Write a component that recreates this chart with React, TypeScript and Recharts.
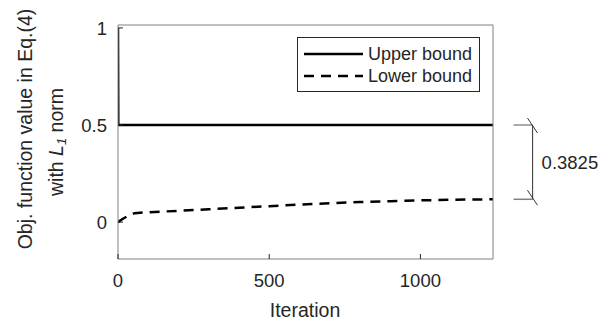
import React from "react";
import {
  LineChart,
  Line,
  XAxis,
  YAxis,
  Legend,
  ReferenceLine,
} from "recharts";

const upperIter = [0, 1, 1240];
const upperValue = [1, 0.5, 0.5];

const lowerIter = [0, 15, 35, 55, 100, 200, 300, 400, 500, 600, 700, 800, 900, 1000, 1100, 1240];
const lowerValue = [0, 0.016, 0.034, 0.046, 0.051, 0.058, 0.066, 0.074, 0.082, 0.09, 0.097, 0.103, 0.108, 0.112, 0.115, 0.1175];

const xTicks = [0, 500, 1000];
const yTicks = [0, 0.5, 1];
const gapLabel = "0.3825";

const upperData = upperIter.map((x, i) => ({ x, v: upperValue[i] }));
const lowerData = lowerIter.map((x, i) => ({ x, v: lowerValue[i] }));

const FONT = "'Liberation Sans', Arial, sans-serif";
const TEXT = "#262626";
const AXIS = "#808080";
const TICK_FS = 18.5;
const LABEL_FS = 19.5;
const DASH = "10 7";

const BottomTick = (props: any) => {
  const { x, y, payload } = props;
  return (
    <g>
      <line x1={x} x2={x} y1={y} y2={y - 5} stroke={TEXT} strokeWidth={1} />
      <text x={x} y={y + 28} textAnchor="middle" fontSize={TICK_FS} fill={TEXT} fontFamily={FONT}>
        {payload.value}
      </text>
    </g>
  );
};

const TopTick = (props: any) => {
  const { x, y } = props;
  return <line x1={x} x2={x} y1={y} y2={y + 5} stroke={TEXT} strokeWidth={1} />;
};

const LeftTick = (props: any) => {
  const { x, y, payload } = props;
  return (
    <g>
      <line x1={x} x2={x + 5} y1={y} y2={y} stroke={TEXT} strokeWidth={1} />
      <text x={x - 11} y={y + 7} textAnchor="end" fontSize={TICK_FS} fill={TEXT} fontFamily={FONT}>
        {payload.value}
      </text>
    </g>
  );
};

const RightTick = (props: any) => {
  const { x, y } = props;
  return <line x1={x} x2={x - 5} y1={y} y2={y} stroke={TEXT} strokeWidth={1} />;
};

const YLabel = () => (
  <g fontFamily={FONT} fontSize={LABEL_FS} fill={TEXT}>
    <text x={25} y={129} transform="rotate(-90 25 129)" textAnchor="middle" dominantBaseline="central">
      Obj. function value in Eq.(4)
    </text>
    <text x={56} y={142} transform="rotate(-90 56 142)" textAnchor="middle" dominantBaseline="central">
      with <tspan fontStyle="italic">L</tspan>
      <tspan fontStyle="italic" fontSize={13} dy={5}>1</tspan>
      <tspan dy={-5}> norm</tspan>
    </text>
  </g>
);

const XLabel = () => (
  <text x={305} y={317} textAnchor="middle" fontSize={LABEL_FS} fill={TEXT} fontFamily={FONT}>
    Iteration
  </text>
);

const LegendBox = () => (
  <div
    style={{
      border: `1px solid ${TEXT}`,
      background: "#fff",
      width: 181,
      height: 53,
    }}
  >
    <svg width={181} height={53} style={{ display: "block" }}>
      <line x1={6} x2={65} y1={16} y2={16} stroke="#000" strokeWidth={2.5} />
      <text x={70} y={22} fontSize={18} fill={TEXT} fontFamily={FONT}>Upper bound</text>
      <line x1={6} x2={65} y1={38} y2={38} stroke="#000" strokeWidth={2.5} strokeDasharray={DASH} />
      <text x={70} y={44} fontSize={18} fill={TEXT} fontFamily={FONT}>Lower bound</text>
    </svg>
  </div>
);

const GapLabel = (props: any) => {
  const { viewBox } = props;
  const midY = viewBox.y + viewBox.height / 2;
  return (
    <text x={viewBox.x + 9} y={midY + 7} fontSize={TICK_FS} fill={TEXT} fontFamily={FONT}>
      {gapLabel}
    </text>
  );
};

export default function App() {
  const top = upperValue[upperValue.length - 1];
  const bottom = lowerValue[lowerValue.length - 1];
  return (
    <div style={{ position: "absolute", left: 0, top: 0 }}>
      <LineChart
        width={613}
        height={325}
        margin={{ top: 20, right: 110, bottom: 36, left: 68 }}
      >
        <XAxis
          xAxisId="b"
          dataKey="x"
          type="number"
          domain={[0, 1240]}
          ticks={xTicks}
          allowDataOverflow
          height={30}
          stroke={AXIS}
          tickSize={0}
          tickMargin={0}
          tick={<BottomTick />}
          label={<XLabel />}
        />
        <XAxis
          xAxisId="t"
          orientation="top"
          dataKey="x"
          type="number"
          domain={[0, 1240]}
          ticks={xTicks}
          height={5}
          stroke={AXIS}
          tickSize={0}
          tickMargin={0}
          tick={<TopTick />}
        />
        <YAxis
          yAxisId="l"
          type="number"
          domain={[-0.19, 1.015]}
          ticks={yTicks}
          allowDataOverflow
          width={50}
          stroke={AXIS}
          tickSize={0}
          tickMargin={0}
          tick={<LeftTick />}
          label={<YLabel />}
        />
        <YAxis
          yAxisId="r"
          orientation="right"
          type="number"
          domain={[-0.19, 1.015]}
          ticks={yTicks}
          width={10}
          stroke={AXIS}
          tickSize={0}
          tickMargin={0}
          tick={<RightTick />}
        />
        <Line
          xAxisId="b"
          yAxisId="l"
          data={upperData}
          dataKey="v"
          stroke="#000"
          strokeWidth={2.5}
          dot={false}
          isAnimationActive={false}
        />
        <Line
          xAxisId="b"
          yAxisId="l"
          data={lowerData}
          dataKey="v"
          stroke="#000"
          strokeWidth={2.5}
          strokeDasharray={DASH}
          dot={false}
          isAnimationActive={false}
        />
        <ReferenceLine
          xAxisId="b"
          yAxisId="l"
          ifOverflow="visible"
          segment={[{ x: 1308, y: top }, { x: 1371, y: top }]}
          stroke="#555"
        />
        <ReferenceLine
          xAxisId="b"
          yAxisId="l"
          ifOverflow="visible"
          segment={[{ x: 1308, y: bottom }, { x: 1371, y: bottom }]}
          stroke="#808080"
          strokeWidth={1.5}
        />
        <ReferenceLine
          xAxisId="b"
          yAxisId="l"
          ifOverflow="visible"
          segment={[{ x: 1371, y: bottom }, { x: 1371, y: top }]}
          stroke="#333"
          label={<GapLabel />}
        />
        <ReferenceLine
          xAxisId="b"
          yAxisId="l"
          ifOverflow="visible"
          segment={[{ x: 1354, y: 0.536 }, { x: 1387, y: 0.459 }]}
          stroke="#333"
        />
        <ReferenceLine
          xAxisId="b"
          yAxisId="l"
          ifOverflow="visible"
          segment={[{ x: 1354, y: 0.164 }, { x: 1387, y: 0.087 }]}
          stroke="#333"
        />
        <Legend
          layout="vertical"
          align="center"
          verticalAlign="middle"
          content={<LegendBox />}
          wrapperStyle={{ position: "absolute", left: 297, top: 37, width: 183, height: 55 }}
        />
      </LineChart>
    </div>
  );
}
